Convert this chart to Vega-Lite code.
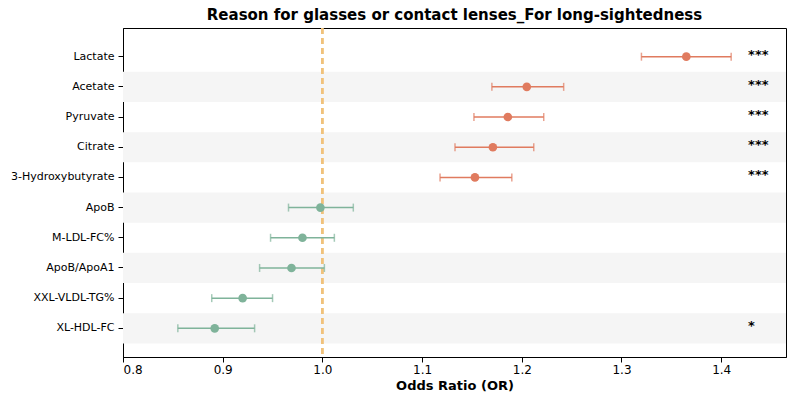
{
  "$schema": "https://vega.github.io/schema/vega-lite/v6.json",
  "width": 800,
  "height": 400,
  "autosize": {"type": "fit", "contains": "padding"},
  "padding": {"left": 10, "right": 14, "top": 8, "bottom": 8},
  "config": {"view": {"stroke": "black"}, "font": "DejaVu Sans"},
  "title": {"text": "Reason for glasses or contact lenses_For long-sightedness", "fontSize": 15, "fontWeight": "bold", "color": "black"},
  "data": {"values": [
    {"m": "Lactate", "or": 1.365, "lo": 1.32, "hi": 1.41, "g": "up", "stripe": 0, "sig": "***"},
    {"m": "Acetate", "or": 1.205, "lo": 1.17, "hi": 1.242, "g": "up", "stripe": 1, "sig": "***"},
    {"m": "Pyruvate", "or": 1.186, "lo": 1.152, "hi": 1.222, "g": "up", "stripe": 0, "sig": "***"},
    {"m": "Citrate", "or": 1.171, "lo": 1.133, "hi": 1.212, "g": "up", "stripe": 1, "sig": "***"},
    {"m": "3-Hydroxybutyrate", "or": 1.153, "lo": 1.118, "hi": 1.19, "g": "up", "stripe": 0, "sig": "***"},
    {"m": "ApoB", "or": 0.998, "lo": 0.966, "hi": 1.031, "g": "down", "stripe": 1, "sig": ""},
    {"m": "M-LDL-FC%", "or": 0.98, "lo": 0.948, "hi": 1.012, "g": "down", "stripe": 0, "sig": ""},
    {"m": "ApoB/ApoA1", "or": 0.969, "lo": 0.937, "hi": 1.002, "g": "down", "stripe": 1, "sig": ""},
    {"m": "XXL-VLDL-TG%", "or": 0.92, "lo": 0.889, "hi": 0.95, "g": "down", "stripe": 0, "sig": ""},
    {"m": "XL-HDL-FC", "or": 0.892, "lo": 0.855, "hi": 0.932, "g": "down", "stripe": 1, "sig": "*"}
  ]},
  "encoding": {
    "y": {"field": "m", "type": "nominal",
      "scale": {"domain": ["Lactate", "Acetate", "Pyruvate", "Citrate", "3-Hydroxybutyrate", "ApoB", "M-LDL-FC%", "ApoB/ApoA1", "XXL-VLDL-TG%", "XL-HDL-FC"], "paddingInner": 0, "paddingOuter": 0.45},
      "axis": {"title": null, "labelFontSize": 11, "labelColor": "black", "domainColor": "black", "tickColor": "black", "labelPadding": 4}}
  },
  "layer": [
    {
      "transform": [{"filter": "datum.stripe == 1"}],
      "mark": {"type": "bar", "color": "#f5f5f5"},
      "encoding": {
        "x": {"datum": 0.8, "type": "quantitative"},
        "x2": {"datum": 1.465}
      }
    },
    {
      "mark": {"type": "rule", "color": "#f0c27a", "strokeDash": [6, 4], "strokeWidth": 1.5},
      "encoding": {"x": {"datum": 1.0, "type": "quantitative"}, "y": null}
    },
    {
      "mark": {"type": "errorbar", "ticks": {"size": 8}, "thickness": 1.5},
      "encoding": {
        "x": {"field": "lo", "type": "quantitative",
          "scale": {"domain": [0.8, 1.465], "nice": false, "zero": false},
          "axis": {"title": "Odds Ratio (OR)", "titleFontSize": 13, "titleFontWeight": "bold", "titleColor": "black", "labelFontSize": 12, "labelColor": "black", "grid": false, "values": [0.8, 0.9, 1.0, 1.1, 1.2, 1.3, 1.4], "format": ".1f", "domainColor": "black", "tickColor": "black"}},
        "x2": {"field": "hi"},
        "color": {"field": "g", "type": "nominal", "scale": {"domain": ["up", "down"], "range": ["#e07b5f", "#7fb39a"]}, "legend": null}
      }
    },
    {
      "mark": {"type": "circle", "size": 75, "opacity": 1},
      "encoding": {
        "x": {"field": "or", "type": "quantitative"},
        "color": {"field": "g", "type": "nominal", "legend": null}
      }
    },
    {
      "mark": {"type": "text", "align": "left", "fontSize": 13, "fontWeight": "bold", "dy": -2},
      "encoding": {
        "x": {"datum": 1.427, "type": "quantitative"},
        "text": {"field": "sig"},
        "color": {"value": "black"}
      }
    }
  ]
}
